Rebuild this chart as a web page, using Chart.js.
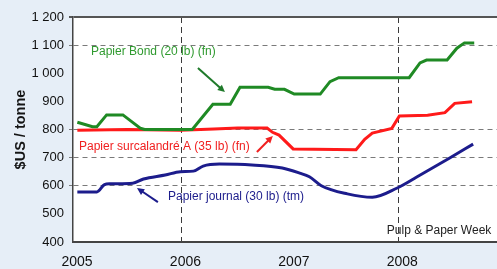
<!DOCTYPE html>
<html>
<head>
<meta charset="utf-8">
<script src="https://cdn.jsdelivr.net/npm/chart.js@4"></script>
<style>
  html, body { margin: 0; padding: 0; background: #e6eef7; }
  #wrap { width: 497px; height: 269px; }
</style>
</head>
<body>
<div id="wrap"><canvas id="prix" width="497" height="269"></canvas></div>
<script>
// annees (axe x) et prix en $US / tonne
const yearTicks = [2005, 2006, 2007, 2008];
const priceTicks = [400, 500, 600, 700, 800, 900, 1000, 1100, 1200];
const dashedPrices = [600, 700, 800, 1100];
const dashedYears = [2006, 2008];

const bondYears  = [2005.04, 2005.18, 2005.22, 2005.31, 2005.46, 2005.62, 2005.66, 2006.10, 2006.29, 2006.45, 2006.54, 2006.80, 2006.86, 2006.95, 2007.04, 2007.28, 2007.37, 2007.45, 2008.10, 2008.20, 2008.26, 2008.45, 2008.54, 2008.61, 2008.70];
const bondPrices = [826, 810, 810, 852, 852, 805, 800, 800, 890, 890, 950, 950, 943, 943, 926, 926, 970, 984, 984, 1037, 1047, 1047, 1089, 1108, 1108];

const surcYears  = [2005.04, 2005.50, 2005.99, 2006.30, 2006.52, 2006.79, 2006.84, 2006.90, 2007.03, 2007.61, 2007.69, 2007.76, 2007.94, 2008.01, 2008.27, 2008.43, 2008.52, 2008.68];
const surcPrices = [797, 800, 797, 802, 805, 805, 790, 780, 731, 728, 765, 787, 804, 848, 851, 860, 893, 899];

const journalYears  = [2005.04, 2005.22, 2005.29, 2005.34, 2005.55, 2005.65, 2005.85, 2005.99, 2006.11, 2006.20, 2006.35, 2006.65, 2006.93, 2007.09, 2007.18, 2007.29, 2007.53, 2007.76, 2007.99, 2008.17, 2008.47, 2008.69];
const journalPrices = [578, 578, 604, 607, 609, 624, 638, 650, 652, 670, 677, 674, 663, 645, 632, 600, 571, 559, 592, 631, 698, 748];

const notes = [
  { text: 'Papier Bond (20 lb) (fn)', x: 2005.166, y: 1076, color: '#2f9a2f' },
  { text: 'Papier surcalandré A (35 lb) (fn)', x: 2005.055, y: 738, color: '#f02020' },
  { text: 'Papier journal (30 lb) (tm)', x: 2005.876, y: 560, color: '#1c1c8c' },
  { text: 'Pulp & Paper Week', x: 2007.894, y: 439, color: '#222' }
];
const arrows = [
  { from: [2006.152, 1019], to: [2006.401, 933], color: '#1f7a2a' },
  { from: [2006.696, 720], to: [2006.843, 777], color: '#f02020' },
  { from: [2005.783, 542], to: [2005.590, 592], color: '#1c1c8c' }
];

const FONT = "'Liberation Sans', Arial, sans-serif";

function pts(xs, ys) {
  return xs.map((x, i) => ({ x: x, y: ys[i] }));
}

const decor = {
  id: 'decor',
  beforeDraw(chart) {
    const { ctx, chartArea: a } = chart;
    ctx.save();
    ctx.fillStyle = '#e6eef7';
    ctx.fillRect(0, 0, chart.width, chart.height);
    ctx.fillStyle = '#ffffff';
    ctx.fillRect(a.left, a.top, a.right - a.left, a.bottom - a.top);
    ctx.restore();
  },
  afterDatasetsDraw(chart) {
    const { ctx, chartArea: a, scales } = chart;
    const sx = scales.x, sy = scales.y;
    ctx.save();
    ctx.font = '12px ' + FONT;
    ctx.textBaseline = 'middle';
    ctx.textAlign = 'left';
    notes.forEach(n => {
      ctx.fillStyle = n.color;
      ctx.fillText(n.text, sx.getPixelForValue(n.x), sy.getPixelForValue(n.y));
    });
    arrows.forEach(ar => {
      const x1 = sx.getPixelForValue(ar.from[0]), y1 = sy.getPixelForValue(ar.from[1]);
      const x2 = sx.getPixelForValue(ar.to[0]), y2 = sy.getPixelForValue(ar.to[1]);
      const ang = Math.atan2(y2 - y1, x2 - x1);
      ctx.strokeStyle = ar.color;
      ctx.fillStyle = ar.color;
      ctx.lineWidth = 2;
      ctx.beginPath();
      ctx.moveTo(x1, y1);
      ctx.lineTo(x2 - 5 * Math.cos(ang), y2 - 5 * Math.sin(ang));
      ctx.stroke();
      ctx.beginPath();
      ctx.moveTo(x2, y2);
      ctx.lineTo(x2 - 8 * Math.cos(ang - 0.45), y2 - 8 * Math.sin(ang - 0.45));
      ctx.lineTo(x2 - 8 * Math.cos(ang + 0.45), y2 - 8 * Math.sin(ang + 0.45));
      ctx.closePath();
      ctx.fill();
    });
    // titre de l'axe y
    ctx.translate(21, (a.top + a.bottom) / 2);
    ctx.rotate(-Math.PI / 2);
    ctx.textAlign = 'center';
    ctx.fillStyle = '#151515';
    ctx.font = 'bold 14.5px ' + FONT;
    ctx.fillText('$US / tonne', 0, 0);
    ctx.restore();
  }
};

const chart = new Chart(document.getElementById('prix'), {
  type: 'line',
  data: {
    datasets: [
      { data: pts(bondYears, bondPrices), borderColor: '#1f8a24', borderWidth: 3 },
      { data: pts(surcYears, surcPrices), borderColor: '#ff1a1a', borderWidth: 3 },
      { data: pts(journalYears, journalPrices), borderColor: '#1c1c8c', borderWidth: 3, cubicInterpolationMode: 'monotone' }
    ]
  },
  options: {
    responsive: false,
    animation: false,
    events: [],
    layout: { padding: { top: 17, left: 0, right: 0, bottom: 0 } },
    elements: { point: { radius: 0 }, line: { tension: 0 } },
    plugins: { legend: { display: false }, tooltip: { enabled: false } },
    scales: {
      x: {
        type: 'linear',
        min: 2005,
        max: 2008.91,
        afterBuildTicks: s => { s.ticks = yearTicks.map(v => ({ value: v })); },
        afterFit: s => { s.height = 27; },
        ticks: {
          font: { family: FONT, size: 14 },
          color: '#111',
          padding: 12,
          labelOffset: 4,
          maxRotation: 0,
          callback: v => String(v)
        },
        grid: {
          drawTicks: false,
          color: c => c.tick && dashedYears.includes(c.tick.value) ? '#3a3a3a' : 'rgba(0,0,0,0)',
          lineWidth: 1
        },
        border: { color: '#444', width: 2, dash: [6, 4] }
      },
      y: {
        min: 400,
        max: 1200,
        afterBuildTicks: s => { s.ticks = priceTicks.map(v => ({ value: v })); },
        afterFit: s => { s.width = 73; },
        ticks: {
          font: { family: FONT, size: 13 },
          color: '#111',
          padding: 5,
          callback: v => v >= 1000 ? String(v).replace(/(\d)(\d{3})$/, '$1 $2') : String(v)
        },
        grid: {
          tickLength: 4,
          color: c => {
            if (!c.tick) return 'rgba(0,0,0,0)';
            if (c.tick.value === 1200) return '#555';
            return dashedPrices.includes(c.tick.value) ? '#7a7a7a' : 'rgba(0,0,0,0)';
          },
          lineWidth: c => c.tick && c.tick.value === 1200 ? 2 : 1
        },
        border: {
          color: '#444',
          width: 1.5,
          dash: c => c.tick && c.tick.value !== 1200 ? [5, 4] : []
        }
      }
    }
  },
  plugins: [decor]
});
</script>
</body>
</html>
